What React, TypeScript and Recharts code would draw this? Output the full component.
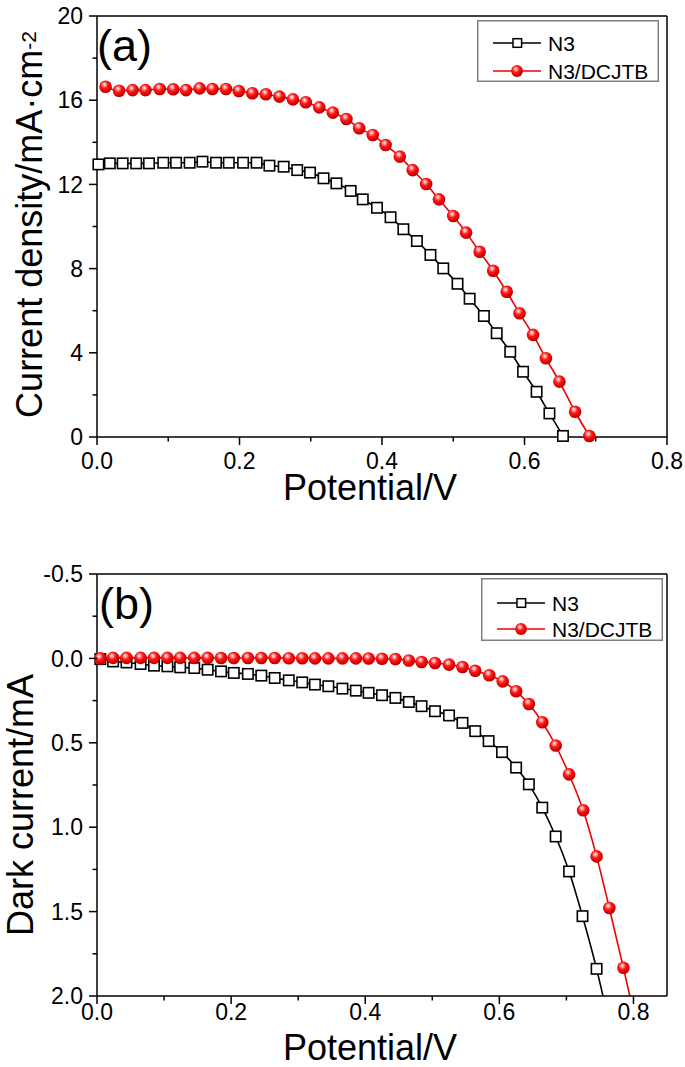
import React from "react";
import { LineChart, Line, XAxis, YAxis, Legend, ReferenceLine, Label, Customized } from "recharts";

const FONT = '"Liberation Sans", Arial, Helvetica, sans-serif';
const RED = "#ee0000";

// (a) photocurrent vs potential
const jvN3V = [0.002, 0.018, 0.036, 0.055, 0.073, 0.093, 0.111, 0.13, 0.148, 0.167, 0.185, 0.205, 0.224, 0.242, 0.262, 0.281, 0.299, 0.318, 0.336, 0.356, 0.373, 0.393, 0.412, 0.43, 0.449, 0.468, 0.486, 0.506, 0.523, 0.543, 0.561, 0.58, 0.598, 0.617, 0.635, 0.654];
const jvN3J = [12.95, 13.0, 13.0, 13.0, 13.0, 13.03, 13.03, 13.03, 13.08, 13.03, 13.03, 13.03, 13.03, 12.89, 12.84, 12.68, 12.56, 12.29, 12.05, 11.69, 11.29, 10.89, 10.44, 9.87, 9.31, 8.65, 8.01, 7.28, 6.57, 5.75, 4.93, 4.05, 3.1, 2.15, 1.12, 0.05];
const jvDyeV = [0.012, 0.031, 0.05, 0.068, 0.088, 0.107, 0.125, 0.144, 0.162, 0.181, 0.199, 0.218, 0.237, 0.256, 0.275, 0.293, 0.312, 0.331, 0.35, 0.368, 0.387, 0.405, 0.425, 0.443, 0.462, 0.48, 0.5, 0.518, 0.537, 0.556, 0.575, 0.593, 0.612, 0.63, 0.649, 0.671, 0.691];
const jvDyeJ = [16.64, 16.45, 16.48, 16.48, 16.53, 16.52, 16.48, 16.56, 16.53, 16.53, 16.44, 16.33, 16.28, 16.17, 16.04, 15.9, 15.66, 15.41, 15.11, 14.67, 14.35, 13.87, 13.32, 12.68, 12.02, 11.29, 10.5, 9.71, 8.8, 7.9, 6.9, 5.88, 4.85, 3.74, 2.63, 1.2, 0.05];

// (b) dark current vs potential
const darkN3V = [0.005, 0.024, 0.044, 0.065, 0.085, 0.105, 0.124, 0.145, 0.165, 0.185, 0.204, 0.225, 0.245, 0.265, 0.286, 0.306, 0.325, 0.345, 0.366, 0.386, 0.405, 0.425, 0.445, 0.465, 0.484, 0.504, 0.525, 0.545, 0.564, 0.584, 0.604, 0.625, 0.644, 0.664, 0.684, 0.704, 0.724, 0.745];
const darkN3I = [0.004, 0.018, 0.024, 0.033, 0.043, 0.047, 0.053, 0.057, 0.067, 0.077, 0.086, 0.092, 0.102, 0.116, 0.13, 0.142, 0.155, 0.165, 0.179, 0.191, 0.204, 0.218, 0.234, 0.258, 0.283, 0.313, 0.338, 0.382, 0.431, 0.49, 0.555, 0.647, 0.746, 0.884, 1.055, 1.262, 1.527, 1.839];
const darkDyeV = [0.005, 0.024, 0.044, 0.065, 0.085, 0.105, 0.124, 0.145, 0.165, 0.185, 0.204, 0.225, 0.245, 0.265, 0.286, 0.306, 0.325, 0.345, 0.366, 0.386, 0.405, 0.425, 0.445, 0.465, 0.484, 0.504, 0.525, 0.545, 0.564, 0.585, 0.605, 0.625, 0.644, 0.664, 0.684, 0.704, 0.725, 0.745, 0.764, 0.785];
const darkDyeI = [0.0, -0.003, -0.003, -0.003, -0.003, -0.003, -0.003, -0.003, -0.003, -0.002, -0.002, -0.002, -0.002, -0.002, -0.001, -0.001, 0.0, 0.0, 0.0, 0.0, 0.001, 0.002, 0.004, 0.012, 0.021, 0.027, 0.037, 0.051, 0.073, 0.1, 0.136, 0.195, 0.27, 0.378, 0.516, 0.687, 0.9, 1.173, 1.479, 1.833];
// the curves run on past the bottom of the frame
const darkN3TailV = [0.762];
const darkN3TailI = [2.13];
const darkDyeTailV = [0.805];
const darkDyeTailI = [2.18];

const ticksXA = [0, 0.1, 0.2, 0.3, 0.4, 0.5, 0.6, 0.7, 0.8];
const ticksYA = [0, 2, 4, 6, 8, 10, 12, 14, 16, 18, 20];
const ticksXB = [0, 0.1, 0.2, 0.3, 0.4, 0.5, 0.6, 0.7, 0.8];
const ticksYB = [-0.5, -0.25, 0, 0.25, 0.5, 0.75, 1, 1.25, 1.5, 1.75, 2];

const zip = (xs: number[], ys: number[]) => xs.map((v, i) => ({ v, y: ys[i] }));

const isStep = (v: number, step: number) => Math.abs(v / step - Math.round(v / step)) < 1e-6;

function XTick({ x, y, payload, gap }: any) {
  const v = payload.value;
  const major = isStep(v, 0.2);
  return (
    <g>
      <line x1={x} x2={x} y1={y} y2={y + (major ? 8 : 4.5)} stroke="#000" strokeWidth={1.5} />
      {major && (
        <text x={x} y={y + 8 + gap} dy="0.71em" textAnchor="middle" fontSize={23} fontFamily={FONT} fill="#000">
          {v.toFixed(1)}
        </text>
      )}
    </g>
  );
}

function YTick({ x, y, payload, step, fmt }: any) {
  const v = payload.value;
  const major = isStep(v, step);
  return (
    <g>
      <line x1={x - (major ? 8 : 4.5)} x2={x} y1={y} y2={y} stroke="#000" strokeWidth={1.5} />
      {major && (
        <text x={x - 14} y={y} dy="0.355em" textAnchor="end" fontSize={23} fontFamily={FONT} fill="#000">
          {fmt(v)}
        </text>
      )}
    </g>
  );
}

const squareDot = (p: any) =>
  p.cx == null ? (
    <g key={`sq${p.index}`} />
  ) : (
    <rect key={`sq${p.index}`} x={p.cx - 5.2} y={p.cy - 5.2} width={10.4} height={10.4} fill="#fff" stroke="#000" strokeWidth={1.6} />
  );

const ballDot = (id: string) => (p: any) =>
  p.cx == null ? <g key={`b${p.index}`} /> : <circle key={`b${p.index}`} cx={p.cx} cy={p.cy} r={6.3} fill={`url(#${id})`} />;

function BallGradient({ id }: { id: string }) {
  return (
    <radialGradient id={id} cx="42%" cy="38%" r="62%" fx="40%" fy="32%">
      <stop offset="0%" stopColor="#ffffff" />
      <stop offset="20%" stopColor="#ff9a9a" />
      <stop offset="45%" stopColor="#ff1a1a" />
      <stop offset="80%" stopColor="#e00000" />
      <stop offset="100%" stopColor="#a80000" />
    </radialGradient>
  );
}

function LegendBox({ height, rows, grad }: { height: number; rows: number[]; grad: string }) {
  return (
    <svg width={182} height={height} style={{ display: "block" }}>
      <defs>
        <BallGradient id={grad} />
      </defs>
      <rect x={0.75} y={0.75} width={180.5} height={height - 1.5} fill="#fff" stroke="#808080" strokeWidth={1.5} />
      <line x1={16} x2={64} y1={rows[0]} y2={rows[0]} stroke="#000" strokeWidth={1.6} />
      <rect x={36} y={rows[0] - 4.3} width={8.6} height={8.6} fill="#fff" stroke="#000" strokeWidth={1.5} />
      <text x={71} y={rows[0] + 7.5} fontSize={21} fontFamily={FONT} fill="#000">N3</text>
      <line x1={16} x2={64} y1={rows[1]} y2={rows[1]} stroke={RED} strokeWidth={1.6} />
      <circle cx={40} cy={rows[1]} r={5.9} fill={`url(#${grad})`} />
      <text x={71} y={rows[1] + 7.5} fontSize={21} fontFamily={FONT} fill="#000">N3/DCJTB</text>
    </svg>
  );
}

const panelTag = (tag: string, x: number, y: number) => () =>
  (
    <text x={x} y={y} fontSize={45} fontFamily={FONT} fill="#000">
      {tag}
    </text>
  );

const xTitle = (dy: number) => (props: any) => {
  const vb = props.viewBox || { x: 97, y: 0, width: 570 };
  return (
    <text x={vb.x + vb.width / 2 - 12} y={vb.y + dy} textAnchor="middle" fontSize={36} fontFamily={FONT} fill="#000">
      Potential/V
    </text>
  );
};

function ChartA() {
  return (
    <LineChart width={685} height={530} margin={{ top: 16, right: 18, bottom: 23, left: 0 }}>
      <defs>
        <BallGradient id="ballA" />
      </defs>
      <XAxis
        type="number"
        dataKey="v"
        domain={[0, 0.8]}
        ticks={ticksXA}
        interval={0}
        height={70}
        tickSize={0}
        tickMargin={0}
        tickLine={false}
        axisLine={{ stroke: "#000", strokeWidth: 1.5 }}
        tick={(p: any) => <XTick {...p} gap={8} />}
      >
        <Label content={xTitle(63)} />
      </XAxis>
      <YAxis
        type="number"
        dataKey="y"
        domain={[0, 20]}
        ticks={ticksYA}
        interval={0}
        width={97}
        tickSize={0}
        tickMargin={0}
        tickLine={false}
        axisLine={{ stroke: "#000", strokeWidth: 1.5 }}
        tick={(p: any) => <YTick {...p} step={4} fmt={(v: number) => String(v)} />}
      >
        <Label
          content={(props: any) => {
            const vb = props.viewBox || { y: 16, height: 421 };
            const cx = 42;
            const cy = vb.y + vb.height / 2 - 2;
            return (
              <text x={cx} y={cy} transform={`rotate(-90 ${cx} ${cy})`} textAnchor="middle" fontSize={36} fontFamily={FONT} fill="#000">
                Current density/mA·cm
                <tspan dy={-6} fontSize={21}>-2</tspan>
              </text>
            );
          }}
        />
      </YAxis>
      <ReferenceLine y={20} stroke="#000" strokeWidth={1.5} />
      <ReferenceLine x={0.8} stroke="#000" strokeWidth={1.5} />
      <Line data={zip(jvN3V, jvN3J)} dataKey="y" type="monotone" stroke="#000" strokeWidth={1.6} dot={squareDot} activeDot={false} isAnimationActive={false} />
      <Line data={zip(jvDyeV, jvDyeJ)} dataKey="y" type="monotone" stroke={RED} strokeWidth={1.6} dot={ballDot("ballA")} activeDot={false} isAnimationActive={false} />
      <Customized component={panelTag("(a)", 97, 61)} />
      <Legend
        layout="vertical"
        align="center"
        verticalAlign="middle"
        wrapperStyle={{ left: 477, top: 20, width: 182, height: 62 }}
        content={() => <LegendBox height={62} rows={[23, 51]} grad="legA" />}
      />
    </LineChart>
  );
}

function ChartB() {
  return (
    <LineChart width={685} height={537} margin={{ top: 44, right: 18, bottom: 11, left: 0 }}>
      <defs>
        <BallGradient id="ballB" />
      </defs>
      <XAxis
        type="number"
        dataKey="v"
        domain={[0, 0.85]}
        ticks={ticksXB}
        interval={0}
        height={60}
        tickSize={0}
        tickMargin={0}
        tickLine={false}
        axisLine={{ stroke: "#000", strokeWidth: 1.5 }}
        tick={(p: any) => <XTick {...p} gap={0} />}
      >
        <Label content={xTitle(64)} />
      </XAxis>
      <YAxis
        type="number"
        dataKey="y"
        domain={[-0.5, 2]}
        reversed
        allowDataOverflow
        ticks={ticksYB}
        interval={0}
        width={97}
        tickSize={0}
        tickMargin={0}
        tickLine={false}
        axisLine={{ stroke: "#000", strokeWidth: 1.5 }}
        tick={(p: any) => <YTick {...p} step={0.5} fmt={(v: number) => v.toFixed(1)} />}
      >
        <Label
          content={(props: any) => {
            const vb = props.viewBox || { y: 44, height: 422 };
            const cx = 33;
            const cy = vb.y + vb.height / 2 + 20;
            return (
              <text x={cx} y={cy} transform={`rotate(-90 ${cx} ${cy})`} textAnchor="middle" fontSize={36} fontFamily={FONT} fill="#000">
                Dark current/mA
              </text>
            );
          }}
        />
      </YAxis>
      <ReferenceLine y={-0.5} stroke="#000" strokeWidth={1.5} />
      <ReferenceLine x={0.85} stroke="#000" strokeWidth={1.5} />
      <Line
        data={zip(darkN3V.concat(darkN3TailV), darkN3I.concat(darkN3TailI))}
        dataKey="y"
        type="monotone"
        stroke="#000"
        strokeWidth={1.6}
        dot={squareDot}
        activeDot={false}
        isAnimationActive={false}
      />
      <Line
        data={zip(darkDyeV.concat(darkDyeTailV), darkDyeI.concat(darkDyeTailI))}
        dataKey="y"
        type="monotone"
        stroke={RED}
        strokeWidth={1.6}
        dot={ballDot("ballB")}
        activeDot={false}
        isAnimationActive={false}
      />
      <Customized component={panelTag("(b)", 99, 89)} />
      <Legend
        layout="vertical"
        align="center"
        verticalAlign="middle"
        wrapperStyle={{ left: 481, top: 48, width: 182, height: 63 }}
        content={() => <LegendBox height={63} rows={[25, 51]} grad="legB" />}
      />
    </LineChart>
  );
}

export default function App() {
  return (
    <div style={{ position: "absolute", left: 0, top: 0, width: 685, height: 1067, background: "#fff" }}>
      <div style={{ position: "absolute", left: 0, top: 0 }}>
        <ChartA />
      </div>
      <div style={{ position: "absolute", left: 0, top: 530 }}>
        <ChartB />
      </div>
    </div>
  );
}
